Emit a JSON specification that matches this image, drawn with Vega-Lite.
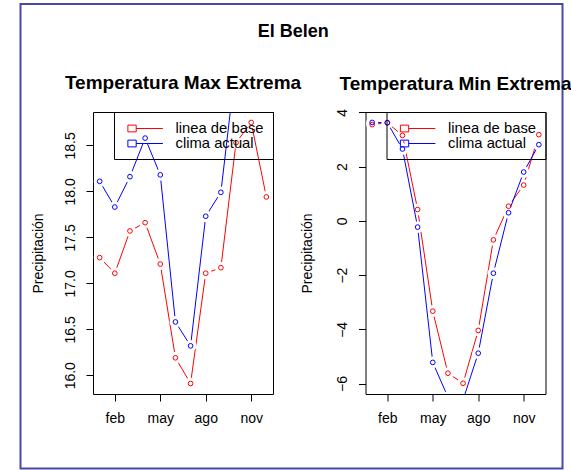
{
  "$schema": "https://vega.github.io/schema/vega-lite/v6.json",
  "padding": {"left": 19.5, "top": 3, "right": 0, "bottom": 0},
  "background": "white",
  "datasets": {
    "marco": [{"marco": 1}],
    "max": [
      {"mes": 1, "serie": "linea de base", "valor": 17.28},
      {"mes": 2, "serie": "linea de base", "valor": 17.11},
      {"mes": 3, "serie": "linea de base", "valor": 17.57},
      {"mes": 4, "serie": "linea de base", "valor": 17.66},
      {"mes": 5, "serie": "linea de base", "valor": 17.21},
      {"mes": 6, "serie": "linea de base", "valor": 16.19},
      {"mes": 7, "serie": "linea de base", "valor": 15.91},
      {"mes": 8, "serie": "linea de base", "valor": 17.11},
      {"mes": 9, "serie": "linea de base", "valor": 17.17},
      {"mes": 10, "serie": "linea de base", "valor": 18.53},
      {"mes": 11, "serie": "linea de base", "valor": 18.75},
      {"mes": 12, "serie": "linea de base", "valor": 17.94},
      {"mes": 1, "serie": "clima actual", "valor": 18.11},
      {"mes": 2, "serie": "clima actual", "valor": 17.83},
      {"mes": 3, "serie": "clima actual", "valor": 18.16},
      {"mes": 4, "serie": "clima actual", "valor": 18.58},
      {"mes": 5, "serie": "clima actual", "valor": 18.18},
      {"mes": 6, "serie": "clima actual", "valor": 16.58},
      {"mes": 7, "serie": "clima actual", "valor": 16.32},
      {"mes": 8, "serie": "clima actual", "valor": 17.73},
      {"mes": 9, "serie": "clima actual", "valor": 17.99},
      {"mes": 10, "serie": "clima actual", "valor": 19.4},
      {"mes": 11, "serie": "clima actual", "valor": 19.6},
      {"mes": 12, "serie": "clima actual", "valor": 19.2}
    ],
    "min": [
      {"mes": 1, "serie": "linea de base", "valor": 3.55},
      {"mes": 2, "serie": "linea de base", "valor": 3.62},
      {"mes": 3, "serie": "linea de base", "valor": 3.15},
      {"mes": 4, "serie": "linea de base", "valor": 0.42},
      {"mes": 5, "serie": "linea de base", "valor": -3.33},
      {"mes": 6, "serie": "linea de base", "valor": -5.62},
      {"mes": 7, "serie": "linea de base", "valor": -5.99},
      {"mes": 8, "serie": "linea de base", "valor": -4.04},
      {"mes": 9, "serie": "linea de base", "valor": -0.7},
      {"mes": 10, "serie": "linea de base", "valor": 0.54},
      {"mes": 11, "serie": "linea de base", "valor": 1.32},
      {"mes": 12, "serie": "linea de base", "valor": 3.18},
      {"mes": 1, "serie": "clima actual", "valor": 3.63},
      {"mes": 2, "serie": "clima actual", "valor": 3.62},
      {"mes": 3, "serie": "clima actual", "valor": 2.65},
      {"mes": 4, "serie": "clima actual", "valor": -0.23},
      {"mes": 5, "serie": "clima actual", "valor": -5.22},
      {"mes": 6, "serie": "clima actual", "valor": -6.5},
      {"mes": 7, "serie": "clima actual", "valor": -6.6},
      {"mes": 8, "serie": "clima actual", "valor": -4.88},
      {"mes": 9, "serie": "clima actual", "valor": -1.93},
      {"mes": 10, "serie": "clima actual", "valor": 0.3},
      {"mes": 11, "serie": "clima actual", "valor": 1.8},
      {"mes": 12, "serie": "clima actual", "valor": 2.81}
    ]
  },
  "spacing": -448,
  "align": "none",
  "vconcat": [
    {
      "width": 542,
      "height": 464.5,
      "view": {"stroke": "#4848a8", "strokeWidth": 2},
      "data": {"name": "marco"},
      "mark": {"type": "rect", "fill": "transparent", "strokeWidth": 0}
    },
    {
      "title": {"text": "El Belen", "anchor": "middle", "baseline": "alphabetic", "offset": 19, "dx": -3, "fontSize": 18, "fontWeight": "bold", "font": "Liberation Sans", "color": "black"},
      "bounds": "full",
      "align": {"row": "all", "column": "none"},
      "spacing": -2.5,
      "resolve": {"scale": {"color": "independent"}, "legend": {"color": "independent"}},
      "hconcat": [
        {
          "width": 11.7,
          "height": 1,
          "view": {"stroke": null},
          "data": {"name": "marco"},
          "mark": {"type": "rect", "fill": "transparent", "strokeWidth": 0}
        },
        {
          "width": 180,
          "height": 282,
          "view": {"stroke": "black", "strokeWidth": 1},
          "title": {"text": "Temperatura Max Extrema", "anchor": "middle", "baseline": "alphabetic", "offset": 3.5, "fontSize": 19, "fontWeight": "bold", "font": "Liberation Sans", "color": "black"},
          "data": {"name": "max"},
          "encoding": {
            "x": {"field": "mes", "type": "quantitative", "scale": {"domain": [0.56, 12.44], "nice": false, "zero": false},
              "axis": {"values": [2, 5, 8, 11], "labelExpr": "['','ene','feb','mar','abr','may','jun','jul','ago','sep','oct','nov','dic'][datum.value]", "title": null}},
            "y": {"field": "valor", "type": "quantitative", "scale": {"domain": [15.796, 18.864], "nice": false, "zero": false},
              "axis": {"values": [16, 16.5, 17, 17.5, 18, 18.5], "format": ".1f", "title": "Precipitación", "titlePadding": 18}}
          },
          "layer": [
            {"transform": [{"filter": "datum.serie == 'linea de base'"}],
             "mark": {"type": "line", "strokeWidth": 1, "clip": true},
             "encoding": {"color": {"field": "serie", "type": "nominal", "title": null, "scale": {"domain": ["linea de base", "clima actual"], "range": ["#ff0000", "#0000ff"]}}}},
            {"transform": [{"filter": "datum.serie == 'linea de base'"}],
             "mark": {"type": "point", "filled": true, "color": "white", "opacity": 1, "size": 140, "strokeWidth": 0, "clip": true}},
            {"transform": [{"filter": "datum.serie == 'clima actual'"}],
             "mark": {"type": "line", "strokeWidth": 1, "clip": true},
             "encoding": {"color": {"field": "serie", "type": "nominal", "title": null, "scale": {"domain": ["linea de base", "clima actual"], "range": ["#ff0000", "#0000ff"]}}}},
            {"transform": [{"filter": "datum.serie == 'clima actual'"}],
             "mark": {"type": "point", "filled": true, "color": "white", "opacity": 1, "size": 140, "strokeWidth": 0, "clip": true}},
            {"mark": {"type": "point", "filled": false, "size": 22, "strokeWidth": 1, "opacity": 1, "clip": true},
             "encoding": {"color": {"field": "serie", "type": "nominal", "title": null, "scale": {"domain": ["linea de base", "clima actual"], "range": ["#ff0000", "#0000ff"]}}}}
          ]
        },
        {
          "width": 180,
          "height": 282,
          "view": {"stroke": "black", "strokeWidth": 1},
          "title": {"text": "Temperatura Min Extrema", "anchor": "middle", "baseline": "alphabetic", "offset": 0, "fontSize": 19, "fontWeight": "bold", "font": "Liberation Sans", "color": "black"},
          "data": {"name": "min"},
          "encoding": {
            "x": {"field": "mes", "type": "quantitative", "scale": {"domain": [0.56, 12.44], "nice": false, "zero": false},
              "axis": {"values": [2, 5, 8, 11], "labelExpr": "['','ene','feb','mar','abr','may','jun','jul','ago','sep','oct','nov','dic'][datum.value]", "title": null}},
            "y": {"field": "valor", "type": "quantitative", "scale": {"domain": [-6.385, 4.015], "nice": false, "zero": false},
              "axis": {"values": [-6, -4, -2, 0, 2, 4], "format": "d", "title": "Precipitación", "titlePadding": 21}}
          },
          "layer": [
            {"transform": [{"filter": "datum.serie == 'linea de base'"}],
             "mark": {"type": "line", "strokeWidth": 1, "clip": true},
             "encoding": {"color": {"field": "serie", "type": "nominal", "title": null, "scale": {"domain": ["linea de base", "clima actual"], "range": ["#ff0000", "#0000ff"]}}}},
            {"transform": [{"filter": "datum.serie == 'linea de base'"}],
             "mark": {"type": "point", "filled": true, "color": "white", "opacity": 1, "size": 140, "strokeWidth": 0, "clip": true}},
            {"transform": [{"filter": "datum.serie == 'clima actual'"}],
             "mark": {"type": "line", "strokeWidth": 1, "clip": true},
             "encoding": {"color": {"field": "serie", "type": "nominal", "title": null, "scale": {"domain": ["linea de base", "clima actual"], "range": ["#ff0000", "#0000ff"]}}}},
            {"transform": [{"filter": "datum.serie == 'clima actual'"}],
             "mark": {"type": "point", "filled": true, "color": "white", "opacity": 1, "size": 140, "strokeWidth": 0, "clip": true}},
            {"mark": {"type": "point", "filled": false, "size": 22, "strokeWidth": 1, "opacity": 1, "clip": true},
             "encoding": {"color": {"field": "serie", "type": "nominal", "title": null, "scale": {"domain": ["linea de base", "clima actual"], "range": ["#ff0000", "#0000ff"]}}}}
          ]
        }
      ]
    }
  ],
  "config": {
    "font": "Liberation Sans",
    "axis": {
      "domain": false, "grid": false, "ticks": true, "tickColor": "black", "tickSize": 7, "tickWidth": 1,
      "labelFont": "Liberation Sans", "labelFontSize": 14, "labelColor": "black",
      "titleFont": "Liberation Sans", "titleFontSize": 14, "titleFontWeight": "normal", "titleColor": "black"
    },
    "axisX": {"labelAngle": 0, "labelPadding": 10},
    "axisY": {"labelAngle": -90, "labelAlign": "center", "labelBaseline": "bottom", "labelPadding": 9},
    "legend": {
      "orient": "top-right", "offset": 0, "strokeColor": "black", "padding": 8.5,
      "symbolType": "M-0.35,-0.45H0.76V0.45H-0.35ZM0.76,0H4.32",
      "symbolSize": 225, "symbolStrokeWidth": 1, "symbolFillColor": "transparent",
      "labelOffset": 37, "labelFont": "Liberation Sans", "labelFontSize": 14.8, "labelColor": "black",
      "rowPadding": 0, "labelLimit": 0
    }
  }
}
